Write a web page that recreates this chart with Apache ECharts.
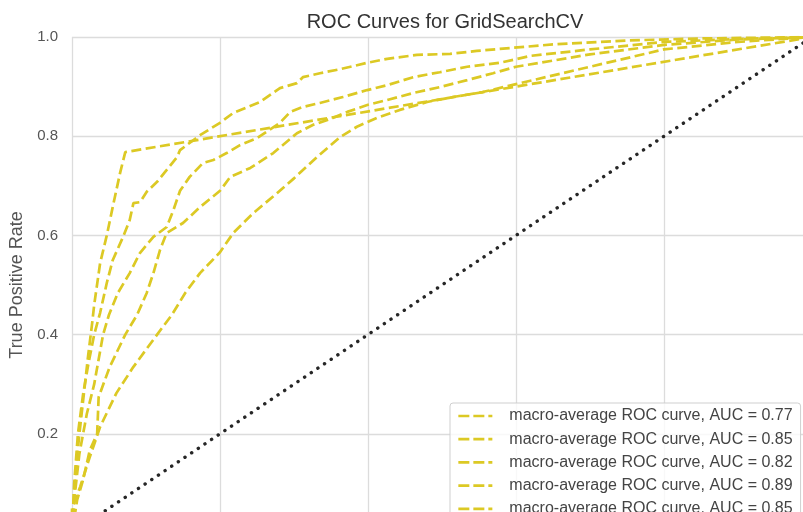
<!DOCTYPE html>
<html>
<head>
<meta charset="utf-8">
<script src="https://cdn.jsdelivr.net/npm/echarts@6/dist/echarts.min.js"></script>
<style>
html,body{margin:0;padding:0;background:#fff;}
#chart{width:803px;height:512px;}
</style>
</head>
<body>
<div id="chart"></div>
<script>
// Curve E (AUC 0.77)
const fprE = [0, 0.0, 0.011, 0.024, 0.038, 0.06, 0.083, 0.115, 0.135, 0.153, 0.173, 0.2, 0.218, 0.245, 0.277, 0.3, 0.331, 0.362, 0.385, 0.412, 0.443, 0.48, 0.515, 0.555, 0.6, 0.7, 0.8, 0.9, 1.0];
const tprE = [0, 0.05, 0.093, 0.153, 0.214, 0.282, 0.335, 0.4, 0.44, 0.484, 0.524, 0.566, 0.605, 0.645, 0.685, 0.715, 0.758, 0.798, 0.819, 0.837, 0.853, 0.869, 0.879, 0.889, 0.905, 0.94, 0.975, 0.99, 1.0];
// Curve A (AUC 0.85, sharp corner)
const fprA = [0, 0.002, 0.006, 0.01, 0.016, 0.022, 0.027, 0.03, 0.038, 0.047, 0.055, 0.065, 0.072, 1.0];
const tprA = [0, 0.06, 0.14, 0.2, 0.28, 0.36, 0.42, 0.46, 0.544, 0.6, 0.657, 0.726, 0.768, 1.0];
// Curve D (AUC 0.82)
const fprD = [0, 0.007, 0.015, 0.024, 0.034, 0.036, 0.051, 0.072, 0.088, 0.101, 0.11, 0.119, 0.128, 0.15, 0.173, 0.2, 0.214, 0.241, 0.272, 0.304, 0.326, 0.353, 0.372, 0.399, 0.426, 0.461, 0.497, 0.534, 0.569, 0.6, 0.7, 0.8, 0.9, 1.0];
const tprD = [0, 0.067, 0.107, 0.167, 0.2, 0.274, 0.335, 0.4, 0.44, 0.484, 0.524, 0.571, 0.605, 0.625, 0.657, 0.69, 0.718, 0.736, 0.766, 0.806, 0.823, 0.837, 0.849, 0.863, 0.873, 0.887, 0.899, 0.913, 0.927, 0.94, 0.965, 0.984, 0.995, 1.0];
// Curve B (AUC 0.89)
const fprB = [0, 0.003, 0.008, 0.015, 0.022, 0.03, 0.038, 0.047, 0.055, 0.069, 0.078, 0.083, 0.092, 0.101, 0.115, 0.128, 0.142, 0.146, 0.173, 0.2, 0.218, 0.254, 0.281, 0.304, 0.312, 0.335, 0.362, 0.399, 0.426, 0.466, 0.511, 0.547, 0.578, 0.65, 0.75, 0.85, 1.0];
const tprB = [0, 0.1, 0.2, 0.28, 0.34, 0.4, 0.444, 0.504, 0.55, 0.597, 0.631, 0.665, 0.667, 0.688, 0.708, 0.732, 0.758, 0.772, 0.802, 0.827, 0.847, 0.869, 0.897, 0.907, 0.919, 0.927, 0.935, 0.948, 0.956, 0.964, 0.966, 0.972, 0.976, 0.985, 0.993, 0.997, 1.0];
// Curve C (AUC 0.85)
const fprC = [0, 0.004, 0.01, 0.02, 0.03, 0.042, 0.05, 0.062, 0.078, 0.092, 0.11, 0.128, 0.137, 0.146, 0.159, 0.177, 0.191, 0.209, 0.227, 0.25, 0.281, 0.295, 0.312, 0.335, 0.366, 0.399, 0.426, 0.461, 0.497, 0.534, 0.578, 0.62, 0.7, 0.8, 0.9, 1.0];
const tprC = [0, 0.08, 0.16, 0.24, 0.3, 0.4, 0.44, 0.484, 0.524, 0.565, 0.597, 0.617, 0.651, 0.69, 0.718, 0.746, 0.752, 0.766, 0.782, 0.796, 0.827, 0.849, 0.859, 0.867, 0.879, 0.893, 0.903, 0.919, 0.929, 0.94, 0.948, 0.962, 0.975, 0.99, 0.996, 1.0];
// Chance diagonal
const fprChance = [0, 1];
const tprChance = [0, 1];

const aucLabels = ['0.77', '0.85', '0.82', '0.89', '0.85'];
const yTicks = [0, 0.2, 0.4, 0.6, 0.8, 1.0];

const curves = [[fprE, tprE], [fprA, tprA], [fprD, tprD], [fprB, tprB], [fprC, tprC]];
const zip = (xs, ys) => xs.map((x, i) => [x, ys[i]]);
const YEL = '#dcc924';
const FONT = '"Liberation Sans", Arial, sans-serif';

// unique names (trailing spaces), trimmed for display
const names = aucLabels.map((a, i) => 'macro-average ROC curve, AUC = ' + a + ' '.repeat(i));

const series = curves.map((c, i) => ({
  type: 'line',
  name: names[i],
  data: zip(c[0], c[1]),
  showSymbol: false,
  symbol: 'none',
  lineStyle: { color: YEL, width: 2.7, type: [10, 4.5], cap: 'butt' },
  itemStyle: { color: YEL },
  z: 3
}));
series.push({
  type: 'line',
  name: 'chance',
  data: zip(fprChance, tprChance),
  showSymbol: false,
  symbol: 'none',
  lineStyle: { color: '#262626', width: 3.4, type: [0.1, 7.9], cap: 'round' },
  z: 4
});

const chart = echarts.init(document.getElementById('chart'));
chart.setOption({
  animation: false,
  backgroundColor: '#fff',
  title: {
    text: 'ROC Curves for GridSearchCV',
    left: 440, textAlign: 'center',
    top: 7,
    textStyle: { fontFamily: FONT, fontSize: 20, fontWeight: 'normal', color: '#333' }
  },
  grid: { left: 72, top: 37, width: 740, height: 496, containLabel: false, outerBoundsMode: 'none' },
  xAxis: {
    type: 'value', min: 0, max: 1, interval: 0.2,
    axisLine: { show: false }, axisTick: { show: false },
    axisLabel: { show: false },
    splitLine: { show: true, lineStyle: { color: '#dcdcdc', width: 1.3 } }
  },
  yAxis: {
    type: 'value', min: 0, max: 1, interval: 0.2,
    name: 'True Positive Rate', nameLocation: 'middle', nameGap: 43, nameRotate: 90,
    nameTextStyle: { fontFamily: FONT, fontSize: 18, color: '#555' },
    axisLine: { show: false }, axisTick: { show: false },
    axisLabel: {
      margin: 14, fontFamily: FONT, fontSize: 15, color: '#555',
      formatter: v => (v > 0.01) ? v.toFixed(1) : ''
    },
    splitLine: { show: true, lineStyle: { color: '#dcdcdc', width: 1.3 } }
  },
  legend: {
    data: names,
    orient: 'vertical',
    left: 450, top: 403, height: 140, width: 360,
    padding: [5, 8, 5, 7],
    itemWidth: 34, itemHeight: 14, itemGap: 7.2,
    backgroundColor: 'rgba(255,255,255,0.8)',
    borderColor: '#cfcfcf', borderWidth: 1, borderRadius: 3,
    itemStyle: { color: 'rgba(0,0,0,0)', borderWidth: 0, opacity: 0 },
    lineStyle: { color: YEL, width: 2.7, type: [11, 4], opacity: 1 },
    formatter: n => n.trim(),
    textStyle: { fontFamily: FONT, fontSize: 16, color: '#444', lineHeight: 16, padding: [0, 0, 0, 12] },
    z: 10
  },
  series: series
});
</script>
</body>
</html>
